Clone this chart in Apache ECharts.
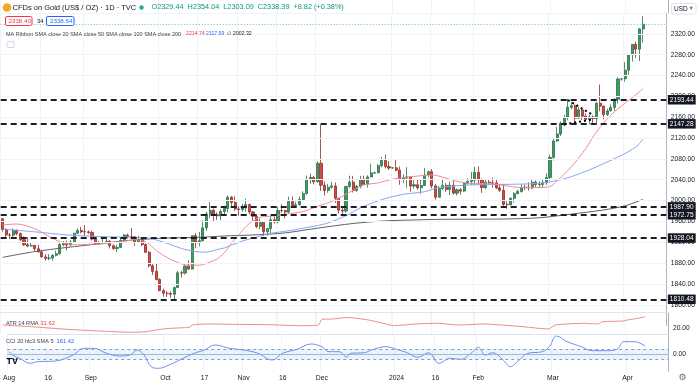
<!DOCTYPE html>
<html><head><meta charset="utf-8">
<script src="https://cdn.jsdelivr.net/npm/echarts@6/dist/echarts.min.js"></script>
<style>html,body{margin:0;padding:0;background:#ffffff;}#chart{width:698px;height:385px;}</style>
</head><body><div id="chart"></div>
<script>
// ---------- DATA ----------
const monthDays = [
  ['2023-08',[1,2,3,4,7,8,9,10,11,14,15,16,17,18,21,22,23,24,25,28,29,30,31]],
  ['2023-09',[1,4,5,6,7,8,11,12,13,14,15,18,19,20,21,22,25,26,27,28,29]],
  ['2023-10',[2,3,4,5,6,9,10,11,12,13,16,17,18,19,20,23,24,25,26,27,30,31]],
  ['2023-11',[1,2,3,6,7,8,9,10,13,14,15,16,17,20,21,22,23,24,27,28,29,30]],
  ['2023-12',[1,4,5,6,7,8,11,12,13,14,15,18,19,20,21,22,25,26,27,28,29]],
  ['2024-01',[1,2,3,4,5,8,9,10,11,12,15,16,17,18,19,22,23,24,25,26,29,30,31]],
  ['2024-02',[1,2,5,6,7,8,9,12,13,14,15,16,19,20,21,22,23,26,27,28,29]],
  ['2024-03',[1,4,5,6,7,8,11,12,13,14,15,18,19,20,21,22,25,26,27,28,29]],
  ['2024-04',[1,2,3,4,5,8,9,10,11,12,15,16]]
];
const opens = [
1965.3,1944.3,1934.1,1933.6,1942.8,1936.6,1925.0,1915.1,1912.7,1913.9,1907.3,1901.5,1891.9,1889.2,1889.6,1894.9,1897.9,1915.5,1917.5,1914.6,1920.4,1937.1,1942.6,
1940.2,1939.9,1938.6,1926.0,1916.8,1919.3,1918.9,1922.0,1913.4,1907.8,1910.1,1923.8,1933.8,1930.9,1930.4,1919.9,1925.3,1915.6,1900.6,1874.9,1864.1,
1848.6,1827.0,1822.2,1821.4,1820.2,1832.9,1861.4,1860.8,1874.1,1868.4,1932.6,1919.8,1923.0,1947.6,1974.3,1981.3,1973.0,1970.7,1979.0,1984.8,2006.3,1996.3,
1983.9,1982.8,1985.8,1992.2,1978.0,1969.9,1950.2,1958.1,1940.1,1946.3,1963.0,1959.3,1980.9,1980.7,1977.9,1998.3,1990.2,1992.0,2001.9,2013.6,2040.9,2044.3,
2036.0,2071.5,2029.5,2019.4,2025.6,2028.1,2004.3,1981.6,1979.9,2027.0,2035.3,2019.3,2027.3,2040.6,2031.1,2045.4,2053.1,2053.5,2067.0,2077.5,2065.3,
2062.5,2062.8,2058.4,2041.4,2043.3,2045.3,2027.8,2030.4,2024.4,2028.9,2049.0,2055.5,2028.0,2006.3,2023.2,2029.1,2021.3,2029.4,2014.1,2020.7,2018.2,2033.3,2036.7,
2039.2,2054.1,2039.6,2024.9,2035.3,2034.1,2033.9,2024.2,2019.6,1992.6,1992.0,2004.2,2013.3,2017.4,2024.6,2025.8,2024.1,2035.0,2030.6,2030.9,2034.2,
2044.3,2082.9,2114.4,2127.9,2148.2,2159.2,2178.9,2182.0,2158.2,2174.2,2162.0,2155.9,2160.4,2157.4,2186.9,2181.2,2165.1,2172.0,2178.7,2194.2,2233.2,
2233.8,2250.3,2280.0,2299.9,2290.6,2329.44
];
const highs = [
1965.9,1946.9,1937.8,1946.7,1944.9,1938.9,1931.1,1929.9,1920.5,1914.6,1914.8,1905.4,1896.9,1897.4,1896.7,1903.8,1919.1,1922.3,1923.1,1924.1,1938.4,1946.3,1949.2,
1952.9,1942.5,1942.1,1928.3,1922.6,1929.8,1930.0,1923.8,1915.8,1915.1,1929.7,1936.0,1936.7,1947.4,1932.0,1932.9,1927.0,1917.6,1903.3,1879.5,1880.2,
1850.8,1831.0,1826.7,1825.9,1834.9,1865.2,1865.4,1877.3,1885.3,1932.6,1937.4,1939.9,1962.4,1978.5,1997.2,1984.9,1977.5,1983.0,1990.0,2009.5,2009.0,2008.0,
1988.7,1993.7,2003.4,1994.0,1980.0,1971.9,1965.6,1959.7,1946.6,1971.1,1969.9,1988.0,1993.4,1982.5,2007.6,2008.0,1997.6,2007.8,2017.8,2048.1,2052.0,2047.6,
2075.2,2146.4,2036.8,2032.0,2036.1,2034.8,2005.9,1987.3,2028.1,2047.8,2047.5,2030.0,2047.4,2047.6,2048.5,2070.8,2055.0,2069.9,2083.5,2088.4,2075.9,
2063.5,2078.9,2065.3,2050.5,2064.2,2045.9,2041.3,2040.2,2040.1,2062.9,2057.5,2060.5,2031.7,2028.3,2041.9,2033.6,2036.3,2037.7,2023.0,2024.3,2035.6,2043.1,2055.0,
2064.8,2065.5,2042.2,2039.8,2039.6,2044.0,2040.3,2031.2,2032.0,1998.4,2006.3,2016.3,2020.8,2031.5,2030.9,2034.9,2041.4,2038.6,2037.1,2039.8,2052.1,
2088.4,2119.6,2141.6,2152.0,2164.5,2195.2,2189.1,2184.8,2179.9,2175.0,2167.3,2164.6,2163.4,2188.8,2222.6,2182.1,2176.3,2184.6,2196.6,2236.7,2234.5,
2265.8,2281.0,2300.4,2304.9,2330.3,2354.04
];
const lows = [
1940.3,1928.3,1925.9,1929.8,1933.1,1922.3,1912.9,1910.7,1911.0,1902.9,1900.3,1890.8,1884.9,1885.2,1884.8,1892.5,1896.0,1912.2,1904.1,1913.4,1918.7,1935.6,1936.9,
1931.2,1936.0,1923.3,1915.7,1914.8,1915.8,1918.0,1908.0,1905.0,1901.1,1909.0,1921.5,1926.8,1929.0,1913.0,1918.6,1912.2,1899.6,1871.6,1857.3,1846.6,
1826.3,1815.3,1815.0,1813.4,1810.48,1832.0,1852.9,1858.0,1866.9,1867.5,1908.4,1912.2,1921.3,1941.7,1966.1,1960.1,1962.5,1962.5,1970.3,1977.5,1987.9,1980.3,
1970.6,1978.3,1978.6,1973.3,1960.4,1947.0,1944.7,1931.6,1932.2,1935.6,1956.0,1956.3,1976.7,1965.6,1975.0,1989.6,1988.7,1990.0,1999.9,2011.5,2032.3,2031.3,
2034.4,2018.4,2009.5,2015.0,2022.6,1995.4,1975.3,1973.2,1976.6,2024.5,2015.5,2016.9,2023.3,2029.6,2024.7,2044.6,2051.0,2052.3,2063.6,2061.5,2058.6,
2061.0,2056.0,2030.3,2033.3,2024.3,2016.9,2023.0,2021.0,2012.9,2028.5,2045.0,2023.4,2001.9,2006.0,2020.0,2016.8,2010.7,2011.6,2009.6,2011.7,2016.2,2030.6,2030.0,
2030.0,2030.9,2014.7,2021.4,2029.9,2025.0,2022.4,2016.3,1989.9,1984.3,1990.2,1996.0,2012.1,2015.0,2019.8,2019.2,2021.7,2026.2,2025.1,2024.4,2030.1,
2038.3,2076.8,2112.4,2123.8,2142.2,2154.2,2175.2,2150.2,2156.5,2154.6,2152.3,2146.4,2146.1,2147.7,2171.5,2156.1,2162.3,2171.2,2172.4,2186.4,2230.0,
2228.0,2241.5,2266.5,2274.2,2267.9,2303.09
];
const closes = [
1944.3,1934.1,1933.6,1942.8,1936.6,1925.0,1915.1,1912.7,1913.9,1907.3,1901.5,1891.9,1889.2,1889.6,1894.9,1897.9,1915.5,1917.5,1914.6,1920.4,1937.1,1942.6,1940.2,
1939.9,1938.6,1926.0,1916.8,1919.3,1918.9,1922.0,1913.4,1907.8,1910.1,1923.8,1933.8,1930.9,1930.4,1919.9,1925.3,1915.6,1900.6,1874.9,1864.1,1848.6,
1827.0,1822.2,1821.4,1820.2,1832.9,1861.4,1860.8,1874.1,1868.4,1932.6,1919.8,1923.0,1947.6,1974.3,1981.3,1973.0,1970.7,1979.0,1984.8,2006.3,1996.3,1983.9,
1982.8,1985.8,1992.2,1978.0,1969.9,1950.2,1958.1,1940.1,1946.3,1963.0,1959.3,1980.9,1980.7,1977.9,1998.3,1990.2,1992.0,2001.9,2013.6,2040.9,2044.3,2036.0,
2071.5,2029.5,2019.4,2025.6,2028.1,2004.3,1981.6,1979.9,2027.0,2035.3,2019.3,2027.3,2040.6,2031.1,2045.4,2053.1,2053.5,2067.0,2077.5,2065.3,2062.5,
2062.8,2058.4,2041.4,2043.3,2045.3,2027.8,2030.4,2024.4,2028.9,2049.0,2055.5,2028.0,2006.3,2023.2,2029.1,2021.3,2029.4,2014.1,2020.7,2018.2,2033.3,2036.7,2039.2,
2054.1,2039.6,2024.9,2035.3,2034.1,2033.9,2024.2,2019.6,1992.6,1992.0,2004.2,2013.3,2017.4,2024.6,2025.8,2024.1,2035.0,2030.6,2030.9,2034.2,2044.3,
2082.9,2114.4,2127.9,2148.2,2159.2,2178.9,2182.0,2158.2,2174.2,2162.0,2155.9,2160.4,2157.4,2186.9,2181.2,2165.1,2172.0,2178.7,2194.2,2233.2,2233.8,
2250.3,2280.0,2299.9,2290.6,2329.6,2338.39
];
// moving averages: [dayIndex, value]
const sma20 = [[0,1953],[4,1955],[9,1946],[13,1931],[16,1921],[18,1917],[21,1915],[24,1916],[27,1917],[31,1919],[35,1923],[37,1925],[40,1921],[42,1910],[44,1899],[48,1884],[52,1876],[55,1876],[58,1882],[60,1888],[62,1900],[64,1918],[66,1934],[68,1950],[70,1961],[72,1968],[75,1970],[79,1974],[84,1979],[88,1989],[93,2001],[98,2020],[101,2030],[105,2034],[109,2041],[113,2045],[116,2047],[120,2049],[123,2045],[127,2037],[131,2033],[136,2033],[140,2029],[145,2025],[150,2025],[153,2027],[155,2038],[159,2065],[163,2100],[166,2132],[170,2164],[174,2187],[177,2203],[179,2214.74]];
const sma50 = [[0,1945],[9,1940],[18,1934],[27,1931],[36,1929.5],[41,1927.6],[46,1918],[50,1908],[54,1902],[57,1901],[60,1906],[62,1909],[66,1920],[70,1928],[75,1937],[80,1942],[84,1947],[88,1952],[91,1957],[96,1971],[100,1986],[104,1997],[107,2004],[112,2012],[118,2017],[122,2025],[131,2030],[140,2031],[150,2033],[154,2037],[159,2046],[164,2059],[168,2071],[173,2087],[177,2103],[179,2117.99]];
const sma200 = [[0,1891],[9,1902],[18,1910],[27,1917],[36,1924],[46,1928],[55,1929.5],[62,1932],[70,1934],[79,1938],[88,1947],[98,1956],[107,1961],[116,1963],[123,1964],[140,1964.6],[150,1967],[159,1974],[168,1982],[174,1990],[179,2002.32]];
const atr = [[0,23.3],[8,21.6],[18,19],[27,17.3],[36,16],[40,16.6],[44,19],[47,20],[52,21],[53,23.4],[57,24.3],[64,24],[74,23.6],[83,22.6],[88,23.3],[89,29],[92,29.3],[96,30.8],[102,28.3],[106,25],[109,22.6],[115,24.3],[121,25],[127,23.3],[134,24.3],[139,23.3],[145,21.6],[152,19.3],[154,23.3],[162,25],[166,24.3],[167,26.6],[173,27.3],[174,28.3],[177,30],[179,31.62]];
const cci = [[0,52],[1,-14],[3,-80],[6,-180],[8,-148],[13,-134],[18,-14],[21,120],[24,120],[27,32],[31,-34],[34,-14],[36,86],[38,-14],[40,-248],[42,-280],[45,-214],[49,-80],[52,20],[55,86],[58,186],[62,120],[66,86],[70,20],[74,-114],[77,20],[81,100],[85,206],[88,152],[90,52],[93,52],[95,-60],[96,20],[100,32],[102,86],[106,152],[109,100],[112,32],[115,-60],[118,32],[121,-180],[124,-80],[127,-100],[130,20],[132,140],[134,-14],[136,32],[139,-114],[141,-248],[143,-148],[146,20],[150,52],[152,152],[154,366],[157,252],[161,152],[164,72],[168,72],[171,100],[173,252],[176,252],[179,161.42]];
// drawn pattern lines (dotted) : [dayIndex, price]
const patternUpper = [[158,2193],[165,2164]];
const patternLower = [[157,2146],[165,2156]];
const levelPrices = [2193.44, 2147.28, 1987.90, 1972.75, 1928.04, 1810.48];
const lastPrice = 2338.39;
const gridPrices = [1800,1840,1880,1920,1960,2000,2040,2080,2120,2160,2200,2240,2280,2320,2360];
const timeLabelIdx = [0,11,23,44,55,66,77,88,109,120,132,153,174];
const timeLabelText = ['Aug','16','Sep','Oct','17','Nov','16','Dec','2024','16','Feb','Mar','Apr'];

// ---------- BUILD ----------
const categories = [];
monthDays.forEach(([m, ds]) => ds.forEach(d => categories.push(m + '-' + String(d).padStart(2,'0'))));
const candleData = opens.map((o,i) => [o, closes[i], lows[i], highs[i]]);
const labelMap = {};
timeLabelIdx.forEach((k,i) => labelMap[k] = timeLabelText[i]);
const isLabelIdx = (i) => labelMap[i] !== undefined;

const FONT = 'Liberation Sans, Arial, sans-serif';
const TXT = '#131722';
const GRIDC = '#f0f3fa';
const AXC = '#b2b5be';

const chart = echarts.init(document.getElementById('chart'), null, {renderer:'canvas', devicePixelRatio:1});

const gl = 0.7, gw = 667.74;
const xBase = (gi, extra) => Object.assign({
  type:'category', data:categories, gridIndex:gi, boundaryGap:true,
  axisLine:{show:false}, axisTick:{show:false}, axisLabel:{show:false},
  splitLine:{show:true, interval:(i)=>isLabelIdx(i), lineStyle:{color:GRIDC, width:1}}
}, extra || {});
const yHidden = (gi) => ({type:'value', gridIndex:gi, position:'right', min:0, max:1,
  axisLine:{show:true, lineStyle:{color:AXC}}, axisTick:{show:false}, splitLine:{show:false}, axisLabel:{show:false}});

const option = {
  animation:false,
  textStyle:{fontFamily:FONT},
  grid:[
    {left:gl, width:gw, top:13.0, height:312.6},
    {left:gl, width:gw, top:312.3, height:22},
    {left:gl, width:gw, top:334.3, height:37},
    {left:gl, width:gw, top:0, height:13.0}
  ],
  xAxis:[
    xBase(0),
    xBase(1, {position:'top', axisLine:{show:true, lineStyle:{color:'#e0e3eb'}}}),
    xBase(2, {position:'bottom', axisLine:{show:true, lineStyle:{color:AXC}},
      axisLabel:{show:true, interval:(i)=>isLabelIdx(i), formatter:(v,i)=>labelMap[i]||'', color:TXT, fontSize:6.8, fontFamily:FONT, margin:3}}),
    xBase(2, {position:'top', splitLine:{show:false}, axisLine:{show:true, lineStyle:{color:'#e0e3eb'}}}),
    xBase(3)
  ],
  yAxis:[
    {type:'value', gridIndex:0, position:'right', min:1760, max:2360, interval:40,
     axisLine:{show:true, lineStyle:{color:AXC}}, axisTick:{show:false}, splitLine:{show:false},
     axisLabel:{color:TXT, fontSize:6.7, fontFamily:FONT, margin:4.5, formatter:(v)=> (v>=1800 && v<=2320) ? v.toFixed(2) : ''}},
    {type:'value', gridIndex:1, position:'right', min:14, max:36, interval:2,
     axisLine:{show:true, lineStyle:{color:AXC}}, axisTick:{show:false}, splitLine:{show:false},
     axisLabel:{color:TXT, fontSize:6.7, fontFamily:FONT, margin:4.5, formatter:(v)=> v===20 ? '20.00' : ''}},
    {type:'value', gridIndex:2, position:'right', min:-340, max:400, interval:340,
     axisLine:{show:true, lineStyle:{color:AXC}}, axisTick:{show:false}, splitLine:{show:false},
     axisLabel:{color:TXT, fontSize:6.7, fontFamily:FONT, margin:4.5, formatter:(v)=> v===0 ? '0.00' : ''}},
    yHidden(3)
  ],
  series:[
    {type:'line', name:'grid', xAxisIndex:0, yAxisIndex:0, data:[], z:1, silent:true,
     markLine:{silent:true, symbol:['none','none'], label:{show:false}, animation:false,
       lineStyle:{color:GRIDC, width:1, type:'solid'}, data:gridPrices.map(v=>({yAxis:v}))}},
    {type:'candlestick', name:'Gold', xAxisIndex:0, yAxisIndex:0, data:candleData, barWidth:2.6, z:3,
     itemStyle:{color:'#3f9a63', color0:'#cf4a3f', borderColor:'#2b7148', borderColor0:'#8f2f27', borderWidth:0.8},
     markLine:{silent:true, symbol:['none','none'], animation:false,
       label:{show:true, position:'end', distance:1.5, formatter:(p)=>p.value.toFixed(2), color:'#ffffff', backgroundColor:'#131722', fontSize:6.6, fontFamily:FONT, padding:[1.5,2,1,2]},
       lineStyle:{color:'#1c1f26', width:2, type:[6,4]},
       data: levelPrices.map(v=>({yAxis:v})).concat([{yAxis:lastPrice, label:{show:false}, lineStyle:{color:'#22ab94', width:1, type:[1,2], opacity:0.7}}])}},
    {type:'line', name:'SMA 200', xAxisIndex:0, yAxisIndex:0, data:sma200, showSymbol:false, smooth:0.3, z:4, lineStyle:{color:'#5d5f66', width:1}},
    {type:'line', name:'SMA 50', xAxisIndex:0, yAxisIndex:0, data:sma50, showSymbol:false, smooth:0.3, z:4, lineStyle:{color:'#86a5f6', width:1}},
    {type:'line', name:'SMA 20', xAxisIndex:0, yAxisIndex:0, data:sma20, showSymbol:false, smooth:0.3, z:4, lineStyle:{color:'#f48a8f', width:1}},
    {type:'line', name:'patternUpper', xAxisIndex:0, yAxisIndex:0, data:patternUpper, showSymbol:false, z:5, lineStyle:{color:'#000000', width:2, type:[2,3]}},
    {type:'line', name:'patternLower', xAxisIndex:0, yAxisIndex:0, data:patternLower, showSymbol:false, z:5, lineStyle:{color:'#000000', width:2, type:[2,3]}},
    {type:'line', name:'ATR', xAxisIndex:1, yAxisIndex:1, data:atr, showSymbol:false, smooth:0.2, z:4, lineStyle:{color:'#ef8a8a', width:1}},
    {type:'line', name:'CCI', xAxisIndex:2, yAxisIndex:2, data:cci, showSymbol:false, smooth:0.4, z:4, lineStyle:{color:'#6a8ef5', width:1},
     markArea:{silent:true, itemStyle:{color:'rgba(33,150,243,0.10)'}, data:[[{yAxis:-100},{yAxis:100}]]},
     markLine:{silent:true, symbol:['none','none'], label:{show:false}, animation:false,
       data:[{yAxis:100, lineStyle:{color:'#8f9bb3', width:1, type:[3,3]}},
             {yAxis:-100, lineStyle:{color:'#8f9bb3', width:1, type:[3,3]}},
             {yAxis:0, lineStyle:{color:'#b9c3d6', width:1, type:[1,2]}}]}}
  ],
  graphic:[
    {type:'circle', shape:{cx:7, cy:7.5, r:4.3}, style:{fill:'#f0a92a'}, z:100},
    {type:'text', style:{text:'CFDs on Gold (US$ / OZ) · 1D · TVC', x:12.5, y:3.5, fill:TXT, fontSize:7.5, fontFamily:FONT}, z:100},
    {type:'circle', shape:{cx:141.5, cy:7.5, r:2.2}, style:{fill:'#22ab94'}, z:100},
    {type:'text', style:{text:'O2329.44  H2354.04  L2303.09  C2338.39  +8.82 (+0.38%)', x:151.5, y:3.7, fill:'#089981', fontSize:7.3, fontFamily:FONT}, z:100},
    {type:'rect', shape:{x:5.5, y:16.5, width:26.5, height:9, r:1.5}, style:{fill:'#ffffff', stroke:'#f23645', lineWidth:1}, z:100},
    {type:'text', style:{text:'2338.40', x:8.5, y:18.2, fill:'#f23645', fontSize:6.2, fontFamily:FONT}, z:101},
    {type:'text', style:{text:'34', x:37, y:18.3, fill:TXT, fontSize:6, fontFamily:FONT}, z:100},
    {type:'rect', shape:{x:46.5, y:16.5, width:27.5, height:9, r:1.5}, style:{fill:'#ffffff', stroke:'#2962ff', lineWidth:1}, z:100},
    {type:'text', style:{text:'2338.64', x:50, y:18.2, fill:'#2962ff', fontSize:6.2, fontFamily:FONT}, z:101},
    {type:'text', style:{text:'MA Ribbon SMA close 20 SMA close 50 SMA close 100 SMA close 200', x:6, y:31.3, fill:'#3b3f4a', fontSize:5.5, fontFamily:FONT}, z:100},
    {type:'text', style:{text:'2214.74', x:186, y:31.1, fill:'#f23645', fontSize:5.2, fontFamily:FONT}, z:100},
    {type:'text', style:{text:'2117.99', x:206, y:31.1, fill:'#2962ff', fontSize:5.2, fontFamily:FONT}, z:100},
    {type:'text', style:{text:'∅', x:226.5, y:31.1, fill:'#50535e', fontSize:5.2, fontFamily:FONT}, z:100},
    {type:'text', style:{text:'2002.32', x:233, y:31.1, fill:TXT, fontSize:5.2, fontFamily:FONT}, z:100},
    {type:'rect', shape:{x:7, y:41.5, width:7, height:6, r:1}, style:{fill:'#ffffff', stroke:'#c9ccd4', lineWidth:0.8}, z:100},
    {type:'text', style:{text:'ATR 14 RMA', x:6, y:320.8, fill:'#3b3f4a', fontSize:5.6, fontFamily:FONT}, z:100},
    {type:'text', style:{text:'31.62', x:40.5, y:320.5, fill:'#f23645', fontSize:5.8, fontFamily:FONT}, z:100},
    {type:'text', style:{text:'CCI 20 hlc3 SMA 5', x:6, y:338.8, fill:'#3b3f4a', fontSize:5.6, fontFamily:FONT}, z:100},
    {type:'text', style:{text:'161.42', x:56.5, y:338.5, fill:'#2962ff', fontSize:5.8, fontFamily:FONT}, z:100},
    {type:'text', style:{text:'TV', x:6.5, y:357, fill:'#000000', fontSize:9, fontWeight:'bold', fontFamily:FONT}, z:100},
    {type:'rect', shape:{x:671.5, y:3.5, width:24.5, height:10.5, r:1.5}, style:{fill:'#ffffff', stroke:'#e0e3eb', lineWidth:1}, z:100},
    {type:'text', style:{text:'USD', x:674, y:5.7, fill:TXT, fontSize:6.5, fontFamily:FONT}, z:101},
    {type:'text', style:{text:'▾', x:689.5, y:5.2, fill:'#6a6d78', fontSize:6.5, fontFamily:'DejaVu Sans'}, z:101},
    {type:'text', style:{text:'⚙', x:678.5, y:373, fill:'#6a6d78', fontSize:9, fontFamily:'DejaVu Sans'}, z:100}
  ]
};
chart.setOption(option);
</script>
</body></html>
